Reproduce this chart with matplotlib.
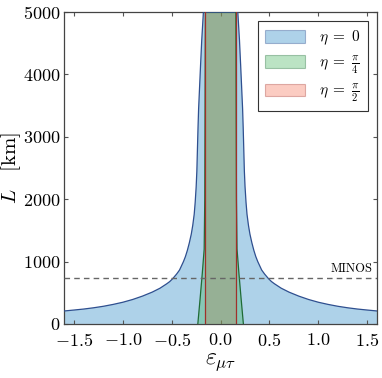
import numpy as np
import matplotlib
matplotlib.use('Agg')
import matplotlib.pyplot as plt
from matplotlib.patches import Patch

plt.rcParams['font.family'] = 'serif'
plt.rcParams['font.serif'] = ['cmr10']
plt.rcParams['mathtext.fontset'] = 'cm'
plt.rcParams['axes.formatter.use_mathtext'] = True

# eta = 0 boundary (symmetric in epsilon)
blue_eps = [0.176, 0.193, 0.205, 0.215, 0.225, 0.231, 0.237, 0.243, 0.25, 0.26,
            0.27, 0.285, 0.30, 0.32, 0.34, 0.36, 0.38, 0.42, 0.45, 0.49,
            0.52, 0.55, 0.62, 0.70, 0.80, 0.90, 1.00, 1.10, 1.20, 1.30,
            1.40, 1.50, 1.60]
blue_L = [5000, 4550, 4150, 3800, 3450, 3150, 2800, 2450, 2200, 1950,
          1760, 1580, 1440, 1300, 1180, 1080, 1000, 865, 800, 726,
          680, 645, 573, 510, 446, 392, 348, 313, 283, 259,
          239, 223, 208]

# eta = pi/4 boundary
green_L = [0, 400, 800, 1200, 2000, 5000]
green_eps = [0.233, 0.21, 0.188, 0.168, 0.162, 0.156]

# eta = pi/2 band
red_L = [0, 5000]
red_eps = [0.162, 0.162]

minos_L = 735

fig = plt.figure(figsize=(3.82, 3.78), dpi=100)
ax = fig.add_axes([0.168, 0.143, 0.819, 0.825])

c_blue, e_blue = '#2a89c6', '#2f4f8f'
c_green, e_green = '#44b45e', '#1f6b35'
c_red, e_red = '#f46a4e', '#a0302a'
a_blue, a_green, a_red = 0.38, 0.36, 0.34

bx = [-e for e in blue_eps[::-1]] + blue_eps
by = blue_L[::-1] + blue_L
ax.fill_between(bx, 0, by, facecolor=c_blue, alpha=a_blue, edgecolor='none', zorder=1)
ax.plot(bx, by, color=e_blue, lw=0.9, zorder=4)

ax.fill_betweenx(red_L, [-e for e in red_eps], red_eps, facecolor=c_red, alpha=a_red,
                 edgecolor='none', zorder=2)
ax.plot([-e for e in red_eps], red_L, color=e_red, lw=0.9, zorder=5)
ax.plot(red_eps, red_L, color=e_red, lw=0.9, zorder=5)

ax.fill_betweenx(green_L, [-e for e in green_eps], green_eps, facecolor=c_green, alpha=a_green,
                 edgecolor='none', zorder=3)
ax.plot([-e for e in green_eps], green_L, color=e_green, lw=0.9, zorder=4)
ax.plot(green_eps, green_L, color=e_green, lw=0.9, zorder=4)

ax.axhline(minos_L, color='#666666', lw=1.0, ls=(0, (4, 3)), zorder=6)
ax.text(1.555, minos_L + 55, 'MINOS', fontsize=9, ha='right', va='bottom', zorder=6)

ax.set_xlim(-1.6, 1.6)
ax.set_ylim(0, 5000)
ax.set_xticks([-1.5, -1.0, -0.5, 0.0, 0.5, 1.0, 1.5])
ax.set_yticks([0, 1000, 2000, 3000, 4000, 5000])
ax.tick_params(direction='in', top=True, right=True, labelsize=13, length=3,
               color='#555555')
ax.tick_params(axis='x', pad=6)
ax.tick_params(axis='y', pad=2.5)
for s in ax.spines.values():
    s.set_color('#444444')
    s.set_linewidth(0.9)

ax.set_xlabel(r'$\varepsilon_{\mu\tau}$', fontsize=17, labelpad=1)
ax.set_ylabel(r'$L\ \ \ [\mathrm{km}]$', fontsize=15, labelpad=0)

handles = [Patch(facecolor=c_blue, alpha=a_blue, edgecolor=e_blue, lw=0.8),
           Patch(facecolor=c_green, alpha=a_green, edgecolor=e_green, lw=0.8),
           Patch(facecolor=c_red, alpha=a_red, edgecolor=e_red, lw=0.8)]
labels = [r'$\eta\;=\;0$', r'$\eta\;=\;\frac{\pi}{4}$', r'$\eta\;=\;\frac{\pi}{2}$']
leg = ax.legend(handles, labels, loc='upper right', fontsize=11, fancybox=False,
                framealpha=1, edgecolor='#333333', handlelength=2.6, handleheight=0.9,
                borderpad=0.5, labelspacing=0.45, handletextpad=0.9, borderaxespad=0.6)
leg.get_frame().set_linewidth(0.8)

fig.savefig('out.png', dpi=100)
